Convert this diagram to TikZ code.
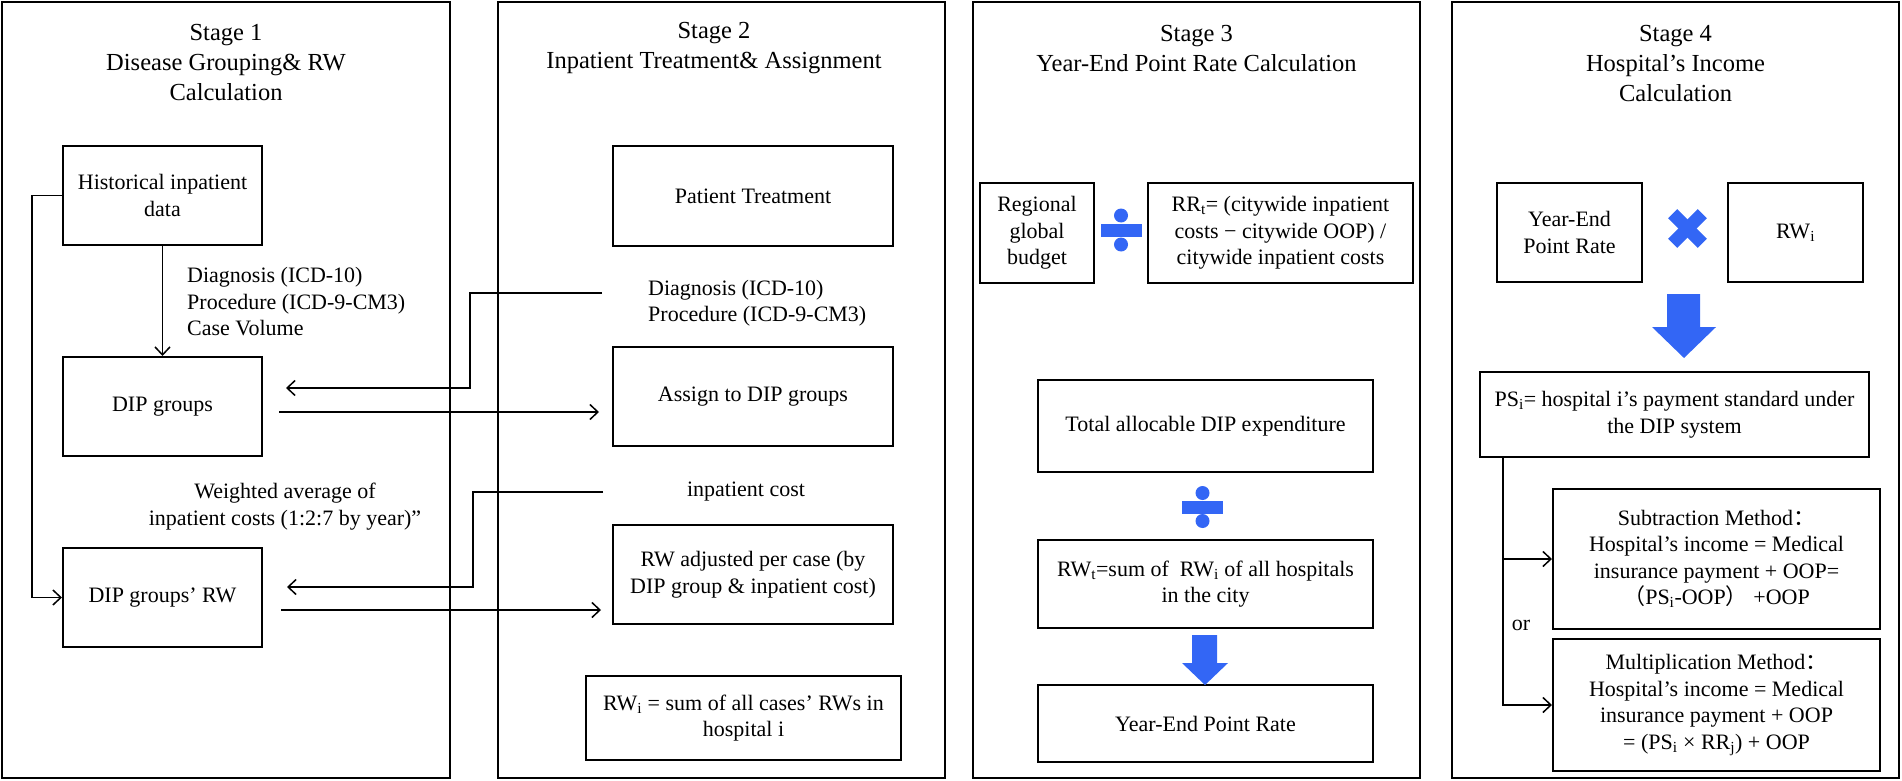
\documentclass[tikz,border=0pt]{standalone}
\usepackage{fontspec}
\setmainfont{Liberation Serif}
\newfontfamily\cjk{Noto Sans CJK SC}
\usetikzlibrary{arrows.meta}
\definecolor{symblue}{HTML}{3366F5}
\newcommand\bodyfont{\fontsize{22}{26.5}\selectfont}
\newcommand\titlefont{\fontsize{24.5}{30}\selectfont}
\begin{document}
\begin{tikzpicture}[x=1pt,y=-1pt,
  panel/.style={draw, line width=2.6pt, inner sep=0pt},
  bx/.style={draw, line width=2pt, inner sep=0pt, align=center, font=\bodyfont},
  ttl/.style={align=center, font=\titlefont, inner sep=0pt},
  lbl/.style={font=\bodyfont, inner sep=0pt},
  arr/.style={line width=1.5pt, -{Straight Barb[length=8pt,width=15pt]}},
  conn/.style={line width=1.5pt},
  sym/.style={fill=symblue, draw=none},
]
\useasboundingbox (0,0) rectangle (1902,781);

% panels
\node[panel, minimum width=448pt, minimum height=776pt] (p1) at (226,390) {};
\node[panel, minimum width=447pt, minimum height=776pt] (p2) at (721.5,390) {};
\node[panel, minimum width=447pt, minimum height=776pt] (p3) at (1196.5,390) {};
\node[panel, minimum width=447pt, minimum height=776pt] (p4) at (1675.5,390) {};

% titles
\node[ttl] (t1) at (226,63) {Stage 1\\Disease Grouping\& RW\\Calculation};
\node[ttl] (t2) at (714,48) {Stage 2\\Inpatient Treatment\& Assignment};
\node[ttl] (t3) at (1196.5,49) {Stage 3\\Year-End Point Rate Calculation};
\node[ttl] (t4) at (1675.5,64) {Stage 4\\Hospital’s Income\\Calculation};

% stage 1
\node[bx, minimum width=199pt, minimum height=99pt] (hist) at (162.5,195.5) {Historical inpatient\\data};
\node[bx, minimum width=199pt, minimum height=99pt] (dip) at (162.5,406.5) {DIP groups};
\node[bx, minimum width=199pt, minimum height=99pt] (rw) at (162.5,597.5) {DIP groups’ RW};
\node[lbl, align=left, anchor=west] (diag1) at (187,302) {Diagnosis (ICD-10)\\Procedure (ICD-9-CM3)\\Case Volume};
\node[lbl, align=center] (wavg) at (285,506.5) {Weighted average of\\inpatient costs (1:2:7 by year)”};

% stage 2
\node[bx, minimum width=280pt, minimum height=100pt] (pt) at (753,196) {Patient Treatment};
\node[lbl, align=left, anchor=west] (diag2) at (648,303) {Diagnosis (ICD-10)\\Procedure (ICD-9-CM3)};
\node[bx, minimum width=280pt, minimum height=99pt] (asg) at (753,396.5) {Assign to DIP groups};
\node[lbl] (icost) at (746,492) {inpatient cost};
\node[bx, minimum width=280pt, minimum height=99pt] (rwa) at (753,574.5) {RW adjusted per case (by\\DIP group \& inpatient cost)};
\node[bx, minimum width=315pt, minimum height=84pt] (rwi) at (743.5,718) {RW\textsubscript{i} = sum of all cases’ RWs in\\hospital i};

% stage 3
\node[bx, minimum width=114pt, minimum height=100pt] (rgb) at (1037,233) {Regional\\global\\budget};
\node[bx, minimum width=265pt, minimum height=100pt] (rrt) at (1280.5,233) {RR\textsubscript{t}= (citywide inpatient\\costs − citywide OOP) /\\citywide inpatient costs};
\node[bx, minimum width=335pt, minimum height=92pt] (tot) at (1205.5,426) {Total allocable DIP expenditure};
\node[bx, minimum width=335pt, minimum height=88pt] (rwt) at (1205.5,584) {RW\textsubscript{t}=sum of\ \ RW\textsubscript{i} of all hospitals\\in the city};
\node[bx, minimum width=335pt, minimum height=77pt] (yep) at (1205.5,723.5) {Year-End Point Rate};

% stage 4
\node[bx, minimum width=145pt, minimum height=99pt] (ye4) at (1569.5,232.5) {Year-End\\Point Rate};
\node[bx, minimum width=135pt, minimum height=99pt] (rw4) at (1795.5,232.5) {RW\textsubscript{i}};
\node[bx, minimum width=389pt, minimum height=85pt] (ps) at (1674.5,414.5) {PS\textsubscript{i}= hospital i’s payment standard under\\the DIP system};
\node[bx, minimum width=327pt, minimum height=140pt] (sub) at (1716.5,559) {Subtraction Method{\cjk ：}\\Hospital’s income = Medical\\insurance payment + OOP=\\{\cjk （}PS\textsubscript{i}-OOP{\cjk ）} +OOP};
\node[bx, minimum width=327pt, minimum height=132pt] (mul) at (1716.5,705) {Multiplication Method{\cjk ：}\\Hospital’s income = Medical\\insurance payment + OOP\\= (PS\textsubscript{i} × RR\textsubscript{j}) + OOP};
\node[lbl] (or) at (1521,625) {or};

% connector end points
\coordinate (c1s) at (602,293);
\coordinate (c1e) at (286,388);
\coordinate (c2s) at (279,412);
\coordinate (c2e) at (599,412);
\coordinate (c3s) at (603,492);
\coordinate (c3e) at (287,587);
\coordinate (c4s) at (281,610);
\coordinate (c4e) at (601,610);
\coordinate (psb) at (1503,457);

% connectors
\draw[arr] (hist.south) -- (dip.north);
\draw[arr] (hist.west) -- ++(-30,0) |- (rw.west);
\draw[arr] (c1s) -- ++(-132,0) |- (c1e);
\draw[arr] (c2s) -- (c2e);
\draw[arr] (c3s) -- ++(-130,0) |- (c3e);
\draw[arr] (c4s) -- (c4e);
\draw[arr] (psb) |- (sub.west);
\draw[arr] (psb) |- (mul.west);

% blue symbols: divide signs
\fill[sym] (1100.5,223.5) rectangle (1141.5,236.5);
\fill[sym] (1121,215.5) circle (7pt);
\fill[sym] (1121,244.5) circle (7pt);
\fill[sym] (1182,500.5) rectangle (1223,513.5);
\fill[sym] (1202.5,493) circle (7pt);
\fill[sym] (1202.5,521) circle (7pt);
% blue arrows
\fill[sym] (1192,635) -- (1217,635) -- (1217,663) -- (1228,663) -- (1205,685) -- (1182,663) -- (1192,663) -- cycle;
\fill[sym] (1667,294) -- (1700,294) -- (1700,327) -- (1716,327) -- (1684,358) -- (1652,327) -- (1667,327) -- cycle;
% blue multiplication cross
\fill[sym, rotate around={45:(1687.5,228.5)}] (1666.5,222) rectangle (1708.5,235);
\fill[sym, rotate around={-45:(1687.5,228.5)}] (1666.5,222) rectangle (1708.5,235);
\end{tikzpicture}
\end{document}
